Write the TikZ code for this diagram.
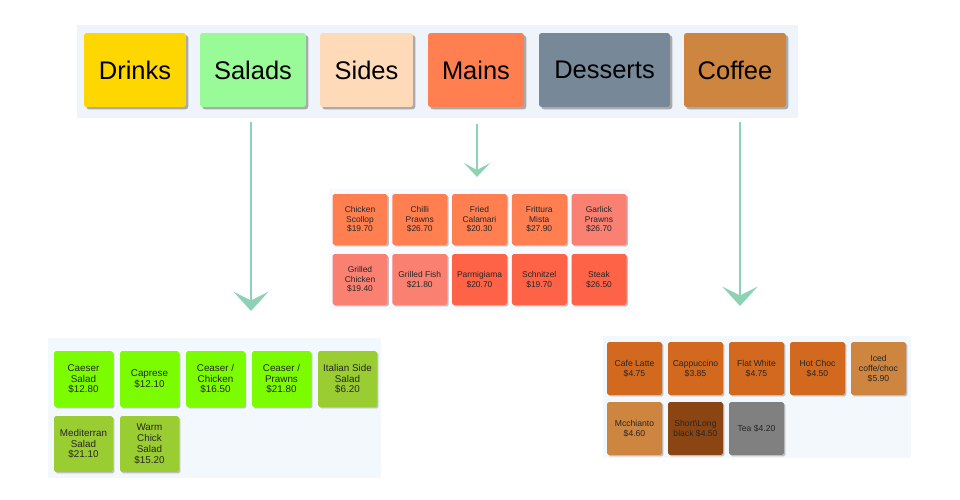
\documentclass[tikz,border=0pt]{standalone}
\usepackage{fontspec}
\setmainfont{Liberation Sans}
\usetikzlibrary{arrows.meta, shadows}

% css-like colours of the menu
\definecolor{gold}{HTML}{FFD700}
\definecolor{palegreen}{HTML}{98FB98}
\definecolor{peachpuff}{HTML}{FFDAB9}
\definecolor{coral}{HTML}{FF7F50}
\definecolor{slategrey}{HTML}{778899}
\definecolor{peru}{HTML}{CD853F}
\definecolor{salmon}{HTML}{FA8072}
\definecolor{tomato}{HTML}{FF6347}
\definecolor{lawngreen}{HTML}{7CFC00}
\definecolor{yellowgreen}{HTML}{9ACD32}
\definecolor{chocolate}{HTML}{D2691E}
\definecolor{saddlebrown}{HTML}{8B4513}
\definecolor{greybox}{HTML}{808080}
\definecolor{barback}{HTML}{EEF4FA}
\definecolor{panelback}{HTML}{F3F8FD}
\definecolor{faintback}{HTML}{F7FAFE}
\definecolor{mint}{HTML}{8DD2B4}

\begin{document}
\begin{tikzpicture}[x=0.02cm, y=-0.02cm,
  panel/.style={fill=#1, draw=none, inner sep=0pt},
  catbox/.style={rounded corners=1.5pt, inner sep=0pt, minimum height=1.48cm,
    font=\fontsize{14.5}{16}\selectfont,
    drop shadow={shadow xshift=1.3pt, shadow yshift=-1.3pt, fill=black!45, opacity=.7}},
  item/.style={rounded corners=1pt, inner sep=0pt, align=center,
    text=black!85,
    drop shadow={shadow xshift=.8pt, shadow yshift=-.8pt, fill=black!40, opacity=.6}},
  mainsitem/.style={item, minimum width=1.1cm, minimum height=1.02cm,
    font=\fontsize{4.8}{5.5}\selectfont},
  saladitem/.style={item, minimum width=1.18cm, minimum height=1.12cm,
    font=\fontsize{5.6}{6.1}\selectfont},
  coffeeitem/.style={item, minimum width=1.1cm, minimum height=1.06cm,
    font=\fontsize{4.9}{5.7}\selectfont},
  flow/.style={draw=mint, line width=1.3pt,
    -{Stealth[length=11pt, width=20pt, inset=5pt]}},
  smallflow/.style={flow, -{Stealth[length=8pt, width=15pt, inset=4pt]}}]

  % Keep the page the size of the reference
  \useasboundingbox (0,0) rectangle (960,500);

  % Category bar along the top
  \node[panel=barback, minimum width=14.42cm, minimum height=1.86cm] (menubar) at (437.5,71.5) {};
  \node[catbox, fill=gold, minimum width=2.04cm] (drinks) at (135,70) {Drinks};
  \node[catbox, fill=palegreen, minimum width=2.12cm] (salads) at (253,70) {Salads};
  \node[catbox, fill=peachpuff, minimum width=1.86cm] (sides) at (366.5,70) {Sides};
  \node[catbox, fill=coral, minimum width=1.92cm] (mains) at (476,70) {Mains};
  \node[catbox, fill=slategrey, minimum width=2.62cm] (desserts) at (604.5,70) {Desserts};
  \node[catbox, fill=peru, minimum width=2.04cm] (coffee) at (735,70) {Coffee};

  % Mains grid
  \node[panel=faintback, minimum width=6.02cm, minimum height=2.42cm] (mainspanel) at (479.5,249.5) {};
  \foreach \txt/\col [count=\i from 0] in {
      {Chicken\\Scollop\\\$19.70}/coral, {Chilli\\Prawns\\\$26.70}/coral,
      {Fried\\Calamari\\\$20.30}/coral, {Frittura\\Mista\\\$27.90}/coral,
      {Garlick\\Prawns\\\$26.70}/salmon, {Grilled\\Chicken\\\$19.40}/salmon,
      {Grilled Fish\\\$21.80}/salmon, {Parmigiama\\\$20.70}/tomato,
      {Schnitzel\\\$19.70}/tomato, {Steak\\\$26.50}/tomato}
    \node[mainsitem, fill=\col] (dish\i) at ({360+59.75*mod(\i,5)},{219.5+60*floor(\i/5)}) {\txt};

  % Salads grid
  \node[panel=panelback, minimum width=6.66cm, minimum height=2.8cm] (saladspanel) at (214.5,408) {};
  \foreach \txt/\col [count=\i from 0] in {
      {Caeser\\Salad\\\$12.80}/lawngreen, {Caprese\\\$12.10}/lawngreen,
      {Ceaser /\\Chicken\\\$16.50}/lawngreen, {Ceaser /\\Prawns\\\$21.80}/lawngreen,
      {Italian Side\\Salad\\\$6.20}/yellowgreen, {Mediterran\\Salad\\\$21.10}/yellowgreen,
      {Warm\\Chick\\Salad\\\$15.20}/yellowgreen}
    \node[saladitem, fill=\col] (salad\i) at ({83.5+66*mod(\i,5)},{379+65*floor(\i/5)}) {\txt};

  % Coffee grid
  \node[panel=panelback, minimum width=6.16cm, minimum height=2.44cm] (coffeepanel) at (757,397) {};
  \foreach \txt/\col [count=\i from 0] in {
      {Cafe Latte\\\$4.75}/chocolate, {Cappuccino\\\$3.85}/chocolate,
      {Flat White\\\$4.75}/chocolate, {Hot Choc\\\$4.50}/chocolate,
      {Iced\\coffe/choc\\\$5.90}/peru, {Mcchianto\\\$4.60}/peru,
      {Short\textbackslash Long\\black \$4.50}/saddlebrown, {Tea \$4.20}/greybox}
    \node[coffeeitem, fill=\col] (cup\i) at ({634.5+61*mod(\i,5)},{368.5+60*floor(\i/5)}) {\txt};

  % Arrows from the bar down to the grids
  \coordinate (saladstip) at (251,311);
  \coordinate (mainstip) at (477,177);
  \coordinate (coffeetip) at (740,306);
  \draw[flow, shorten <=2pt] (menubar.south -| saladstip) -- (saladstip);
  \draw[smallflow, shorten <=3pt] (menubar.south -| mainstip) -- (mainstip);
  \draw[flow, shorten <=2pt] (menubar.south -| coffeetip) -- (coffeetip);
\end{tikzpicture}
\end{document}
